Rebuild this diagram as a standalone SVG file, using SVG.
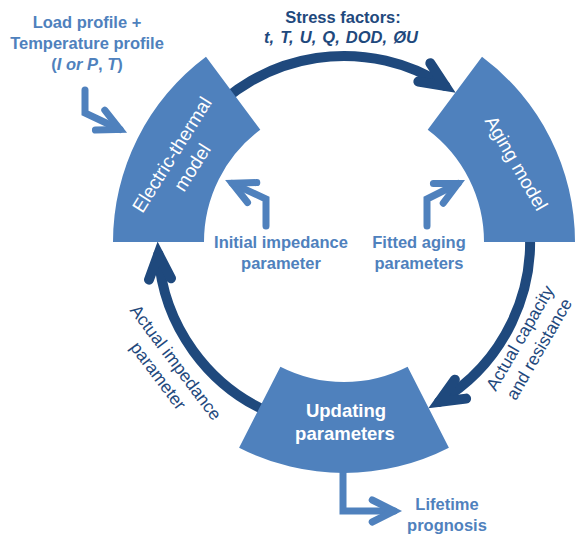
<svg xmlns="http://www.w3.org/2000/svg" width="575" height="540" viewBox="0 0 575 540">
  <style>
    .block { fill: #4F81BD; }
    .cycle { fill: none; stroke: #1F497D; stroke-width: 10; stroke-linecap: round; }
    .feed { fill: none; stroke: #4F81BD; stroke-width: 7; stroke-linecap: round; stroke-linejoin: miter; }
    .lbl { font-family: "Liberation Sans", Arial, sans-serif; font-weight: bold; font-size: 16.5px; fill: #4F81BD; text-anchor: middle; }
    .dark { fill: #1F497D; }
    .inside { font-family: "Liberation Sans", Arial, sans-serif; fill: #FFFFFF; text-anchor: middle; font-size: 19px; }
    .side { font-family: "Liberation Sans", Arial, sans-serif; fill: #1F497D; text-anchor: middle; font-size: 17.5px; }
  </style>
  <defs>
    <marker id="headDark" markerUnits="userSpaceOnUse" orient="auto" refX="0" refY="0" markerWidth="1" markerHeight="1" overflow="visible">
      <path d="M-25,-11 L0,0 L-25,11" fill="none" stroke="#1F497D" stroke-width="10" stroke-linecap="round" stroke-linejoin="miter" stroke-miterlimit="10"/>
    </marker>
    <marker id="headLight" markerUnits="userSpaceOnUse" orient="auto" refX="0" refY="0" markerWidth="1" markerHeight="1" overflow="visible">
      <path d="M-22,-11 L0,0 L-22,11" fill="none" stroke="#4F81BD" stroke-width="7" stroke-linecap="round" stroke-linejoin="miter" stroke-miterlimit="10"/>
    </marker>
  </defs>

  <!-- connectors: the dark cycle arcs (r = 186 about 344,242) and the light input/output arrows -->
  <g id="connectors">
    <path class="cycle" d="M201.5,122.4 A186,186 0 0 1 445.3,86.0" marker-end="url(#headDark)"/>
    <path class="cycle" d="M528.2,216.1 A186,186 0 0 1 439.0,401.9" marker-end="url(#headDark)"/>
    <path class="cycle" d="M274.3,414.5 A186,186 0 0 1 158.4,254.0" marker-end="url(#headDark)"/>
    <path class="feed" d="M85,90 L85,113 L120,129.5" marker-end="url(#headLight)"/>
    <path class="feed" d="M266,226 L266,199 L232.2,183.3" marker-end="url(#headLight)"/>
    <path class="feed" d="M427,226 L427,199 L458,183.5" marker-end="url(#headLight)"/>
    <path class="feed" d="M343,460 L343,511 L394.2,511" marker-end="url(#headLight)"/>
  </g>

  <!-- ring-sector blocks (inner r = 140, outer r = 231) -->
  <g id="electric-thermal-model">
    <path class="block" d="M113,242 A231,231 0 0 1 206,56.8 L260.3,129.7 A140,140 0 0 0 204,242 Z"/>
    <g transform="translate(182,161) rotate(-58)">
      <text class="inside" x="0" y="-5.4">Electric-thermal</text>
      <text class="inside" x="0" y="18.6">model</text>
    </g>
  </g>

  <g id="aging-model">
    <path class="block" d="M482,56.8 A231,231 0 0 1 575,242 L484,242 A140,140 0 0 0 427.7,129.7 Z"/>
    <g transform="translate(515,164) rotate(60)">
      <text class="inside" x="0" y="5">Aging model</text>
    </g>
  </g>

  <g id="updating-parameters">
    <path class="block" d="M407.6,366.7 A140,140 0 0 1 280.4,366.7 L239.1,447.8 A231,231 0 0 0 448.9,447.8 Z"/>
    <text class="lbl" style="fill:#FFFFFF;font-size:18.5px" x="346" y="417">Updating</text>
    <text class="lbl" style="fill:#FFFFFF;font-size:18.5px" x="345" y="440">parameters</text>
  </g>

  <!-- free labels -->
  <g id="load-profile">
    <text class="lbl" x="87" y="28">Load profile +</text>
    <text class="lbl" x="87" y="49">Temperature profile</text>
    <text class="lbl" x="87" y="70">(<tspan font-style="italic">I or P</tspan>, <tspan font-style="italic">T</tspan>)</text>
  </g>

  <g id="stress-factors">
    <text class="lbl dark" x="343" y="23">Stress factors:</text>
    <text class="lbl dark" x="341" y="43" font-style="italic" word-spacing="1.5">t, T, U, Q, DOD, ØU</text>
  </g>

  <g id="initial-impedance">
    <text class="lbl" x="281" y="248">Initial impedance</text>
    <text class="lbl" x="281" y="269">parameter</text>
  </g>

  <g id="fitted-aging">
    <text class="lbl" x="419" y="248">Fitted aging</text>
    <text class="lbl" x="419" y="269">parameters</text>
  </g>

  <g id="lifetime-prognosis">
    <text class="lbl" x="447" y="510">Lifetime</text>
    <text class="lbl" x="447" y="531">prognosis</text>
  </g>

  <g id="actual-impedance">
    <g transform="translate(167,369) rotate(53)">
      <text class="side" x="0" y="-5">Actual impedance</text>
      <text class="side" x="0" y="17">parameter</text>
    </g>
  </g>

  <g id="actual-capacity">
    <g transform="translate(529.5,343.5) rotate(-60)">
      <text class="side" x="0" y="-5">Actual capacity</text>
      <text class="side" x="0" y="17">and resistance</text>
    </g>
  </g>
</svg>
